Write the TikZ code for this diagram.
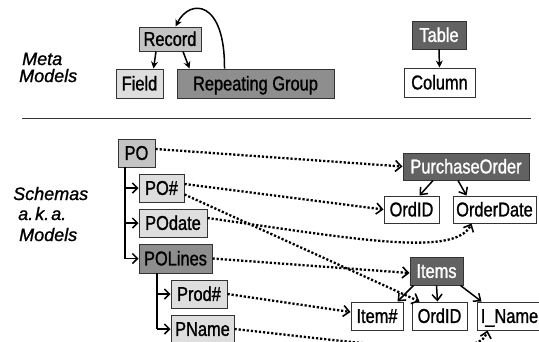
\documentclass[tikz,border=0pt]{standalone}
\usepackage{fontspec}
\setmainfont{Liberation Sans}[FakeStretch=0.82,FakeBold=1.2]
\newfontfamily\labfont{Liberation Sans}[FakeBold=1.2]
\usetikzlibrary{arrows.meta,calc}
\definecolor{cdark}{HTML}{626262}
\definecolor{cmid}{HTML}{8E8E8E}
\definecolor{clight}{HTML}{C4C4C4}
\definecolor{clighter}{HTML}{DEDEDE}
\begin{document}
\begin{tikzpicture}[x=1pt,y=-1pt,
  box/.style={draw=black!80, line width=1pt, inner sep=0pt, text height=14.3pt, text depth=0.5pt,
    font=\fontsize{20}{22}\selectfont},
  dk/.style={box, fill=cdark, text=white},
  md/.style={box, fill=cmid},
  lt/.style={box, fill=clight},
  lr/.style={box, fill=clighter},
  wh/.style={box, fill=white},
  lab/.style={font=\labfont\itshape\fontsize{18}{20}\selectfont, anchor=base west, inner sep=0pt},
  tree/.style={line width=1.6pt, -{Straight Barb[length=5pt,width=10pt,line width=1.5pt]}},
  treeln/.style={line width=1.6pt},
  meta/.style={line width=1.5pt, -{Stealth[length=7pt,width=7pt]}},
  dots/.style={line width=2.3pt, dash pattern=on 2.2pt off 1.9pt, -{Straight Barb[length=6pt,width=11pt,line width=1.6pt]}},
  sub/.style={line width=1.5pt, -{Straight Barb[length=6pt,width=10pt,line width=1.5pt]}}
]
\useasboundingbox (0,0) rectangle (539,341);

% labels
\node[lab] (meta1) at (22,65) {Meta};
\node[lab] (meta2) at (19,82) {Models};
\node[lab] (sch1) at (13,200) {Schemas};
\node[lab] (sch2) at (18,220) {a.\kern2pt k.\kern2pt a.};
\node[lab] (sch3) at (19,241) {Models};

% separator
\coordinate (sepL) at (22,118);
\coordinate (sepR) at (531,118);
\draw[line width=0.9pt, black!80] (sepL) -- (sepR);

% meta models
\node[lt, minimum width=62pt, minimum height=24pt] (record) at (170,39) {Record};
\node[lr, minimum width=47pt, minimum height=29pt] (field) at (139.5,83.5) {Field};
\node[md, minimum width=157pt, minimum height=29pt] (rep) at (255.5,83.5) {Repeating Group};
\node[dk, minimum width=54pt, minimum height=28pt] (table) at (439,35) {Table};
\node[wh, minimum width=71pt, minimum height=29pt] (column) at (439.5,82.5) {Column};

\draw[meta] ($(record.south)+(-14,0)$) -- ($(field.north east)+(-10,0)$);
\draw[meta] ($(record.south)+(13,0)$) -- ($(rep.north west)+(13,0)$);
\draw[meta] (table.south) -- (column.north);
\draw[meta] ($(rep.north west)+(48,0)$) .. controls (225,0) and (190,-2) .. ($(record.north west)+(37,0)$);

% schema tree
\node[lt, minimum width=37pt, minimum height=28pt] (po) at (136.5,153) {PO};
\node[lr, minimum width=45pt, minimum height=28pt] (pono) at (161.5,188) {PO\#};
\node[lr, minimum width=68pt, minimum height=28pt] (podate) at (173,223) {POdate};
\node[md, minimum width=73pt, minimum height=29pt] (polines) at (175.5,258.5) {POLines};
\node[lr, minimum width=56pt, minimum height=28pt] (prod) at (199,294) {Prod\#};
\node[lr, minimum width=63pt, minimum height=28pt] (pname) at (202.5,329) {PName};

\coordinate (t1) at (125,167);
\coordinate (t1a) at (125,188);
\coordinate (t1b) at (125,223);
\coordinate (t1c) at (125,258.5);
\draw[treeln] (t1) -- (t1c);
\draw[tree] (t1a) -- (pono.west);
\draw[tree] (t1b) -- (podate.west);
\draw[tree] (t1c) -- (polines.west);
\coordinate (t2) at (157,273);
\coordinate (t2a) at (157,294);
\coordinate (t2b) at (157,329);
\draw[treeln] (t2) -- (t2b);
\draw[tree] (t2a) -- (prod.west);
\draw[tree] (t2b) -- (pname.west);

% relational
\node[dk, minimum width=126pt, minimum height=27pt] (purch) at (466,166.5) {PurchaseOrder};
\node[wh, minimum width=55pt, minimum height=27pt] (ordid1) at (411.5,209.5) {OrdID};
\node[wh, minimum width=83pt, minimum height=27pt] (odate) at (494.5,209.5) {OrderDate};
\node[dk, minimum width=53pt, minimum height=28pt] (items) at (436.5,271) {Items};
\node[wh, minimum width=52pt, minimum height=28pt] (itemno) at (377,316) {Item\#};
\node[wh, minimum width=55pt, minimum height=28pt] (ordid2) at (439.5,316) {OrdID};
\node[wh, minimum width=65pt, minimum height=28pt] (iname) at (509.5,316) {I\_Name};

\draw[sub] ($(purch.south)+(-33,0)$) -- ($(ordid1.north)+(8,0)$);
\draw[sub] ($(purch.south)+(-8,0)$) -- ($(odate.north)+(-28,0)$);
\draw[sub] ($(items.south west)+(4,0)$) -- ($(itemno.north east)+(-6,0)$);
\draw[sub] (items.south) -- ($(ordid2.north)+(-2,0)$);
\draw[sub] ($(items.south east)+(-3,0)$) -- ($(iname.north west)+(5,0)$);

% mappings
\draw[dots] ($(po.east)+(0,-4)$) -- (purch.west);
\draw[dots] ($(pono.east)+(0,-4)$) -- (ordid1.west);
\draw[dots] ($(pono.south east)+(0,-8)$) -- ($(ordid2.north west)+(8,0)$);
\draw[dots] ($(podate.east)+(0,-5)$) .. controls (350,238) and (455,258) .. ($(odate.south)+(-23,0)$);
\draw[dots] (polines.east) -- ($(items.west)+(0,2)$);
\draw[dots] (prod.east) -- ($(itemno.west)+(0,-4)$);
\draw[dots] (pname.east) .. controls (380,345) and (480,360) .. ($(iname.south)+(-22,0)$);
\end{tikzpicture}
\end{document}
